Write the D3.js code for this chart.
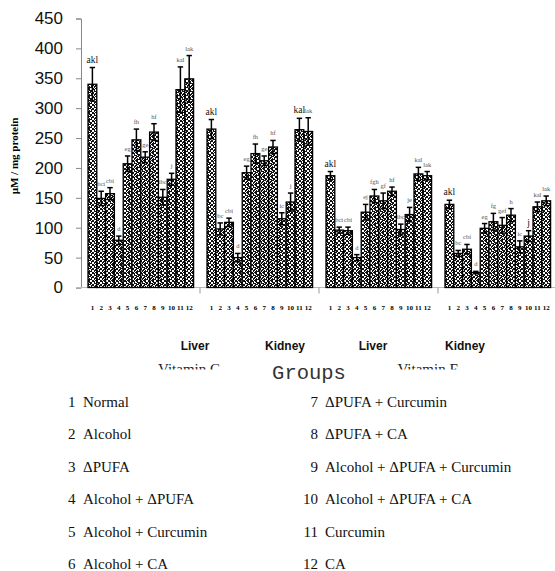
<!DOCTYPE html>
<html><head><meta charset="utf-8">
<script src="https://cdn.jsdelivr.net/npm/d3@7"></script>
<style>body{margin:0;background:#fff}svg{display:block}</style>
</head><body>
<svg id="c" width="555" height="571"></svg>
<script>
const panels = ["Vitamin C Liver","Vitamin C Kidney","Vitamin E Liver","Vitamin E Kidney"];
const groupIds = ["1","2","3","4","5","6","7","8","9","10","11","12"];
const yTicks = [0,50,100,150,200,250,300,350,400,450];

const valsVitCLiver  = [340,149,157,79,207,247,218,260,151,181,331,349];
const errVitCLiver   = [28,12,10,7,13,18,9,14,13,10,38,39];
const valsVitCKidney = [265,98,109,50,192,224,212,235,115,143,264,261];
const errVitCKidney  = [16,10,7,7,11,16,8,11,10,15,19,23];
const valsVitELiver  = [187,96,95,50,126,153,145,161,97,122,190,187];
const errVitELiver   = [7,5,6,5,13,11,13,7,9,12,11,7];
const valsVitEKidney = [139,57,64,25,99,110,104,121,68,86,135,145];
const errVitEKidney  = [7,5,8,2,8,14,13,11,10,9,8,8];

const lblVitCLiver  = ["akl","bci","cbi","d","eg","fh","ge","hf","ibc","j","kal","lak"];
const lblVitCKidney = ["akl","bc","cbi","d","eg","fh","ge","hf","ic","j","kal","lak"];
const lblVitELiver  = ["akl","bci","cbi","d","ej","fgh","gf","hf","ibc","je","kal","lak"];
const lblVitEKidney = ["akl","bc","cbi","d","eg","fg","gef","h","ic","j","kal","lak"];

const tissueLabels = ["Liver","Kidney","Liver","Kidney"];
const vitaminLabels = ["Vitamin C","Vitamin E"];
const legendLeft  = ["Normal","Alcohol","\u0394PUFA","Alcohol + \u0394PUFA","Alcohol + Curcumin","Alcohol + CA"];
const legendRight = ["\u0394PUFA + Curcumin","\u0394PUFA + CA","Alcohol + \u0394PUFA + Curcumin","Alcohol + \u0394PUFA + CA","Curcumin","CA"];

const series = [
  {p:panels[0], v:valsVitCLiver,  e:errVitCLiver,  l:lblVitCLiver,  big:[0]},
  {p:panels[1], v:valsVitCKidney, e:errVitCKidney, l:lblVitCKidney, big:[0,10]},
  {p:panels[2], v:valsVitELiver,  e:errVitELiver,  l:lblVitELiver,  big:[0]},
  {p:panels[3], v:valsVitEKidney, e:errVitEKidney, l:lblVitEKidney, big:[0,9]}
];

const svg = d3.select("#c");
const defs = svg.append("defs");
const pat = defs.append("pattern").attr("id","stip").attr("patternUnits","userSpaceOnUse")
  .attr("width",8).attr("height",8);
pat.append("rect").attr("width",8).attr("height",8).attr("fill","#fff");
const tile = ["X..XX.XX","X..XXX.X","XXX..X..",".XX..XXX","XX.XX..X","..XXX.XX","X.X..XX.","XXX..X.X"];
tile.forEach((row,r)=>row.split("").forEach((ch,c)=>{
  if(ch==="X") pat.append("rect").attr("x",c).attr("y",r).attr("width",1).attr("height",1).attr("fill","#111");
}));

const y = d3.scaleLinear().domain([0,450]).range([287.5,18.5]);
const xG = d3.scaleBand().domain(panels).range([81,557]).padding(0);
const xB = d3.scaleBand().domain(groupIds).range([7,112.6]).padding(0);

const yAx = svg.append("g").attr("transform","translate(81,0)")
  .call(d3.axisLeft(y).tickValues(yTicks).tickSize(5).tickPadding(13).tickFormat(d3.format("d")));
yAx.select(".domain").attr("stroke","#888");
yAx.selectAll(".tick line").attr("stroke","#888");
yAx.selectAll("text").attr("font-family","Arial, 'Liberation Sans', sans-serif").attr("font-size",17).attr("fill","#111");

svg.append("line").attr("x1",76).attr("x2",557).attr("y1",y(0)).attr("y2",y(0)).attr("stroke","#bbb");
panels.forEach(p=>{
  svg.append("line").attr("x1",xG(p)+xG.bandwidth()).attr("x2",xG(p)+xG.bandwidth())
    .attr("y1",y(0)).attr("y2",y(0)+6).attr("stroke","#999");
});

svg.append("text").attr("transform","translate(18,156) rotate(-90)")
  .attr("text-anchor","middle").attr("font-family","'Liberation Serif', 'Times New Roman', serif")
  .attr("font-weight","bold").attr("font-size",11).text("\u00b5M / mg protein");

series.forEach(s=>{
  const g = svg.append("g").attr("transform",`translate(${xG(s.p)},0)`);
  const d = s.v.map((v,i)=>({id:groupIds[i],v:v,e:s.e[i],l:s.l[i],big:s.big.includes(i)}));
  g.selectAll("rect.bar").data(d).join("rect").attr("class","bar")
    .attr("x",q=>xB(q.id)).attr("width",xB.bandwidth())
    .attr("y",q=>y(q.v)).attr("height",q=>y(0)-y(q.v))
    .attr("fill","url(#stip)").attr("stroke","#000").attr("stroke-width",1.3);
  const cx = q=>xB(q.id)+xB.bandwidth()/2;
  g.selectAll("line.eb").data(d).join("line").attr("class","eb")
    .attr("x1",cx).attr("x2",cx).attr("y1",q=>y(q.v+q.e)).attr("y2",q=>y(q.v-q.e))
    .attr("stroke","#000").attr("stroke-width",1.5);
  ["top","bot"].forEach(k=>{
    g.selectAll("line.cap"+k).data(d).join("line").attr("class","cap"+k)
      .attr("x1",q=>cx(q)-2.7).attr("x2",q=>cx(q)+2.7)
      .attr("y1",q=>y(k==="top"?q.v+q.e:q.v-q.e)).attr("y2",q=>y(k==="top"?q.v+q.e:q.v-q.e))
      .attr("stroke","#000").attr("stroke-width",1.5);
  });
  g.selectAll("text.lb").data(d).join("text").attr("class","lb")
    .attr("x",cx).attr("y",q=>y(q.v+q.e)-5).attr("text-anchor","middle")
    .attr("font-family","'Liberation Serif', 'Times New Roman', serif")
    .attr("font-size",q=>q.big?9.5:6.5).attr("fill",q=>q.big?"#111":"#555")
    .text(q=>q.l);
  g.selectAll("text.num").data(d).join("text").attr("class","num")
    .attr("x",cx).attr("y",309.5).attr("text-anchor","middle")
    .attr("font-family","'Liberation Serif', 'Times New Roman', serif")
    .attr("font-weight","bold").attr("font-size",7).text(q=>q.id);
});

const tissueX = [195,285,373,465];
tissueLabels.forEach((t,i)=>{
  svg.append("text").attr("x",tissueX[i]).attr("y",350).attr("text-anchor","middle")
    .attr("font-family","Arial, 'Liberation Sans', sans-serif").attr("font-weight","bold")
    .attr("font-size",12).attr("fill","#111").text(t);
});
defs.append("clipPath").attr("id","vclip").append("rect").attr("x",0).attr("y",355).attr("width",555).attr("height",14.5);
const vitX = [189,428];
vitaminLabels.forEach((t,i)=>{
  svg.append("text").attr("clip-path","url(#vclip)").attr("x",vitX[i]).attr("y",373.5)
    .attr("text-anchor","middle").attr("font-family","'Liberation Serif', 'Times New Roman', serif")
    .attr("font-size",15).attr("fill","#222").text(t);
});
svg.append("text").attr("x",309).attr("y",378.5).attr("text-anchor","middle")
  .attr("font-family","'Liberation Mono', 'Courier New', monospace").attr("font-size",20.5)
  .attr("fill","#333").text("Groups");

const ly = i=>406.5+i*32.5;
const lf = "'Liberation Serif', 'Times New Roman', serif";
legendLeft.forEach((t,i)=>{
  svg.append("text").attr("x",68).attr("y",ly(i)).attr("font-family",lf).attr("font-size",15).attr("fill","#111").text(String(i+1));
  svg.append("text").attr("x",83).attr("y",ly(i)).attr("font-family",lf).attr("font-size",15).attr("fill","#111").text(t);
});
legendRight.forEach((t,i)=>{
  svg.append("text").attr("x",318).attr("y",ly(i)).attr("text-anchor","end").attr("font-family",lf).attr("font-size",15).attr("fill","#111").text(String(i+7));
  svg.append("text").attr("x",325).attr("y",ly(i)).attr("font-family",lf).attr("font-size",15).attr("fill","#111").text(t);
});
</script>
</body></html>
